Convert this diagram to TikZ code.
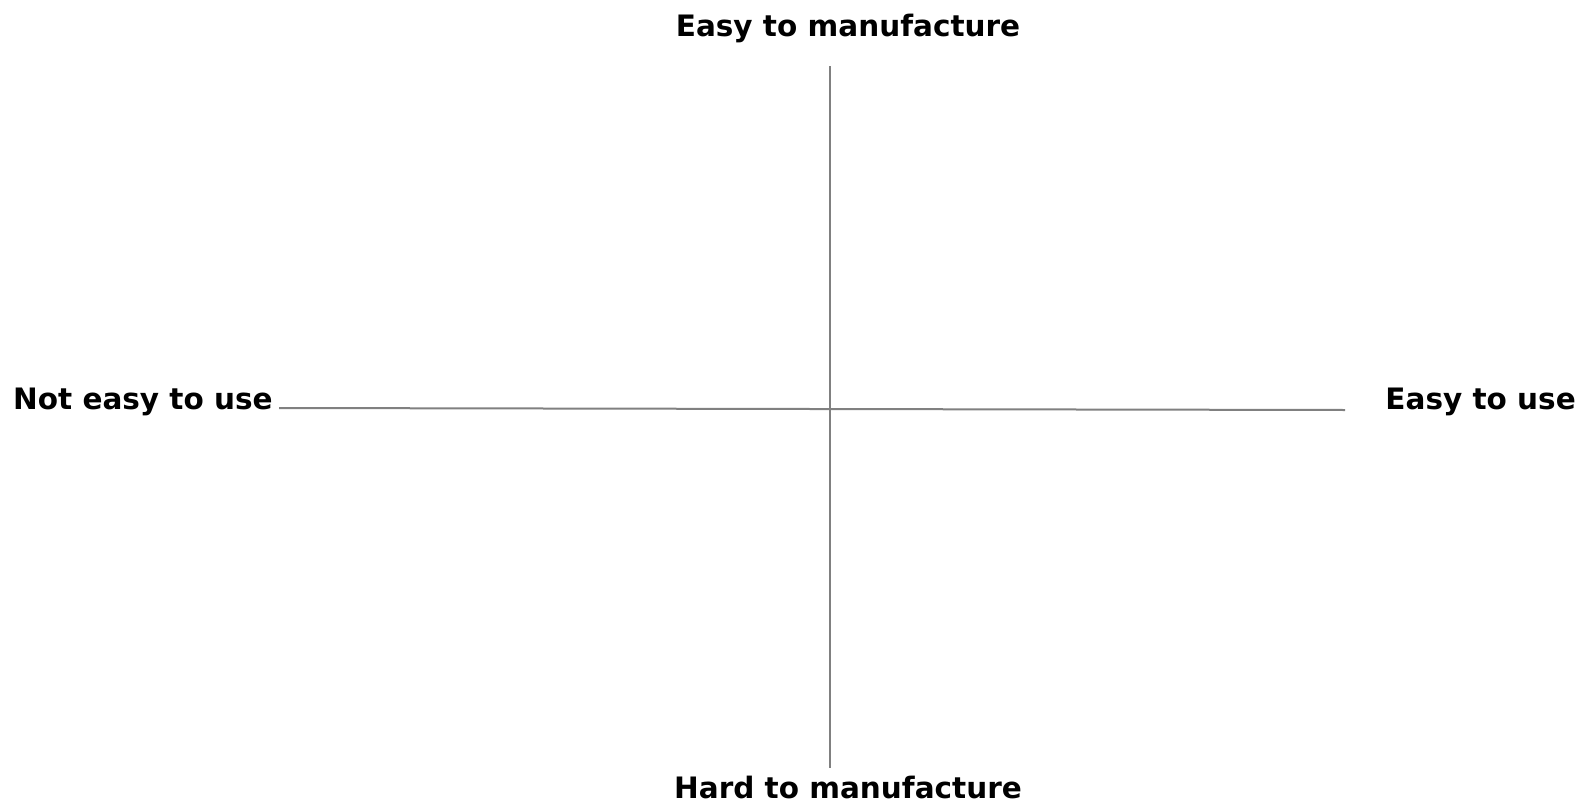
\documentclass[tikz,border=0pt]{standalone}
\usepackage{fontspec}
\setmainfont{DejaVu Sans}
\usepackage{tikz}
\usetikzlibrary{positioning}
\definecolor{axisgray}{RGB}{128,128,128}
\tikzset{
  axislabel/.style={font=\fontsize{29.5}{33}\selectfont\bfseries,inner sep=0pt,anchor=base},
  axisline/.style={draw=axisgray,line width=2pt}
}

\begin{document}
\begin{tikzpicture}[x=1pt,y=-1pt]
  \useasboundingbox (0,0) rectangle (1591,803);
  \node[axislabel] (top) at (848,36) {Easy to manufacture};
  \node[axislabel] (bottom) at (848,798) {Hard to manufacture};
  \node[axislabel,anchor=base west] (left) at (13,409) {Not easy to use};
  \node[axislabel,anchor=base east] (right) at (1576,409) {Easy to use};
  \coordinate (vtop) at (830,66);
  \coordinate (vbot) at (830,768);
  \coordinate (hleft) at (279,408);
  \coordinate (hright) at (1345,410);
  \draw[axisline] (vtop) -- (vbot);
  \draw[axisline] (hleft) -- (hright);
\end{tikzpicture}
\end{document}
